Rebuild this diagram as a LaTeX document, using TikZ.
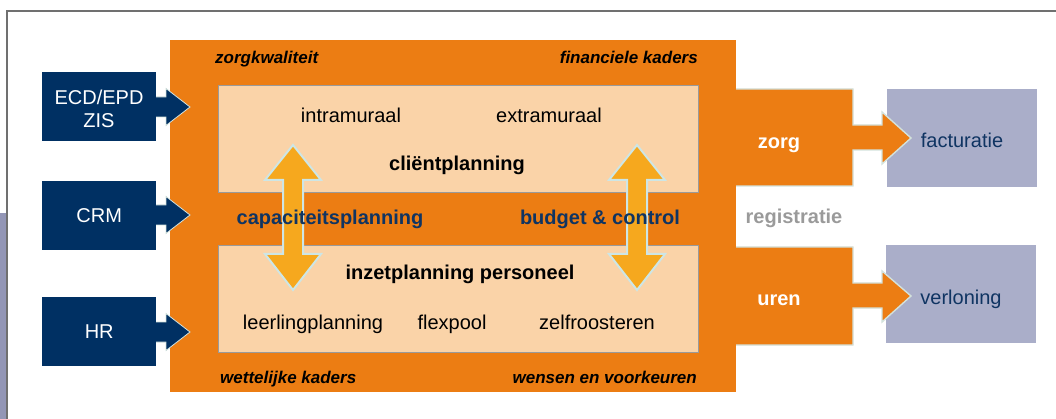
\documentclass[tikz,border=0pt]{standalone}
\usepackage{fontspec}
\setmainfont{Liberation Sans}
\definecolor{orangeM}{HTML}{EC7D13}
\definecolor{peach}{HTML}{FAD3A8}
\definecolor{navy}{HTML}{003063}
\definecolor{navytxt}{HTML}{0F3462}
\definecolor{arrowY}{HTML}{F6A81E}
\definecolor{arrowEdge}{HTML}{CDE6E6}
\definecolor{lilac}{HTML}{AAAEC9}
\definecolor{leftbar}{HTML}{9396B6}
\definecolor{framegray}{HTML}{707070}
\definecolor{regGray}{HTML}{9A9A9A}
\definecolor{boxEdge}{HTML}{9A9A9A}
\definecolor{lightEdge}{HTML}{D3E2DC}
\begin{document}
\begin{tikzpicture}[x=1pt,y=-1pt,
  txt/.style={inner sep=0pt, font=\fontsize{20}{23}\selectfont, text height=14.3pt, text depth=0pt},
  btxt/.style={txt, font=\fontsize{20}{23}\selectfont\bfseries},
  itxt/.style={inner sep=0pt, font=\fontsize{17}{20}\selectfont\bfseries\itshape, text height=12.2pt, text depth=0pt},
  srcbox/.style={fill=navy, inner sep=0pt, minimum width=114pt, minimum height=69pt, anchor=north west},
  outbox/.style={fill=lilac, inner sep=0pt, minimum width=150pt, minimum height=98pt, anchor=north west},
  planbox/.style={fill=peach, draw=boxEdge, line width=1.2pt, inner sep=0pt, minimum width=480pt, minimum height=107pt, anchor=north west},
  navyarrow/.style={fill=navy, draw=lightEdge, line width=0.8pt},
  outarrow/.style={fill=orangeM, draw=lightEdge, line width=1.4pt},
  dblarrow/.style={fill=arrowY, draw=arrowEdge, line width=2pt, line join=miter}
]
\useasboundingbox (0,0) rectangle (1056,419);
% frame
\fill[leftbar] (0,213) rectangle (7,419);
\draw[framegray, line width=1.5pt] (7,419) -- (7,11) -- (1056,11);

% main orange block
\node[fill=orangeM, inner sep=0pt, minimum width=566pt, minimum height=352pt, anchor=north west] (main) at (170,40) {};

% source arrows (navy)
\foreach \yy in {107,215,332}{
  \filldraw[navyarrow] (154,\yy-10) -- (166,\yy-10) -- (166,\yy-18.5) -- (190,\yy) -- (166,\yy+18.5) -- (166,\yy+10) -- (154,\yy+10) -- cycle;
}
\node[srcbox] (ecd) at (42,72) {};
\node[srcbox] (crm) at (42,181) {};
\node[srcbox] (hr) at (42,297) {};
\node[txt, white] at (99,97) {ECD/EPD};
\node[txt, white] at (99,120) {ZIS};
\node[txt, white] at (crm.center) {CRM};
\node[txt, white] at (hr.center) {HR};

% planning boxes
\node[planbox] (client) at (218,85) {};
\node[planbox] (inzet) at (218,245) {};

% corner labels
\node[itxt, anchor=west] (zk) at (215,57) {zorgkwaliteit};
\node[itxt, anchor=east] (fk) at (698,57) {financiele kaders};
\node[itxt, anchor=west] (wk) at (220,377) {wettelijke kaders};
\node[itxt, anchor=east] (wv) at (697,377) {wensen en voorkeuren};

% double arrows
\foreach \cx in {293,637}{
  \filldraw[dblarrow] (\cx,145) -- (\cx+28,180) -- (\cx+10,180) -- (\cx+10,254) -- (\cx+28,254) -- (\cx,290) -- (\cx-28,254) -- (\cx-10,254) -- (\cx-10,180) -- (\cx-28,180) -- cycle;
}

% texts in boxes
\node[txt] (intra) at (351,115) {intramuraal};
\node[txt] (extra) at (549,115) {extramuraal};
\node[btxt] (cp) at (457,163) {cliëntplanning};
\node[btxt, navytxt] (cap) at (330,217) {capaciteitsplanning};
\node[btxt, navytxt] (bc) at (600,217) {budget \& control};
\node[btxt] (ip) at (460,272) {inzetplanning personeel};
\node[txt] (ll) at (313,322) {leerlingplanning};
\node[txt] (fp) at (452,322) {flexpool};
\node[txt] (zr) at (597,322) {zelfroosteren};

% output boxes
\node[outbox] (fact) at (887,89) {};
\node[outbox] (verl) at (886,245) {};
\node[txt, navytxt] at (962,140) {facturatie};
\node[txt, navytxt] at (961,297) {verloning};

% output arrows
\filldraw[outarrow] (736,89) -- (853,89) -- (853,125) -- (882,125) -- (882,112) -- (911,138) -- (882,164) -- (882,150) -- (853,150) -- (853,186) -- (736,186);
\fill[orangeM] (735,90) rectangle (737,185);
\node[btxt, white] (zorg) at (779,141) {zorg};
\filldraw[outarrow] (736,247) -- (853,247) -- (853,283) -- (882,283) -- (882,271) -- (911,296) -- (882,322) -- (882,308) -- (853,308) -- (853,345) -- (736,345);
\fill[orangeM] (735,248) rectangle (737,344);
\node[btxt, white] (uren) at (779,298) {uren};

\node[btxt, regGray] (reg) at (794,216) {registratie};
\end{tikzpicture}
\end{document}
